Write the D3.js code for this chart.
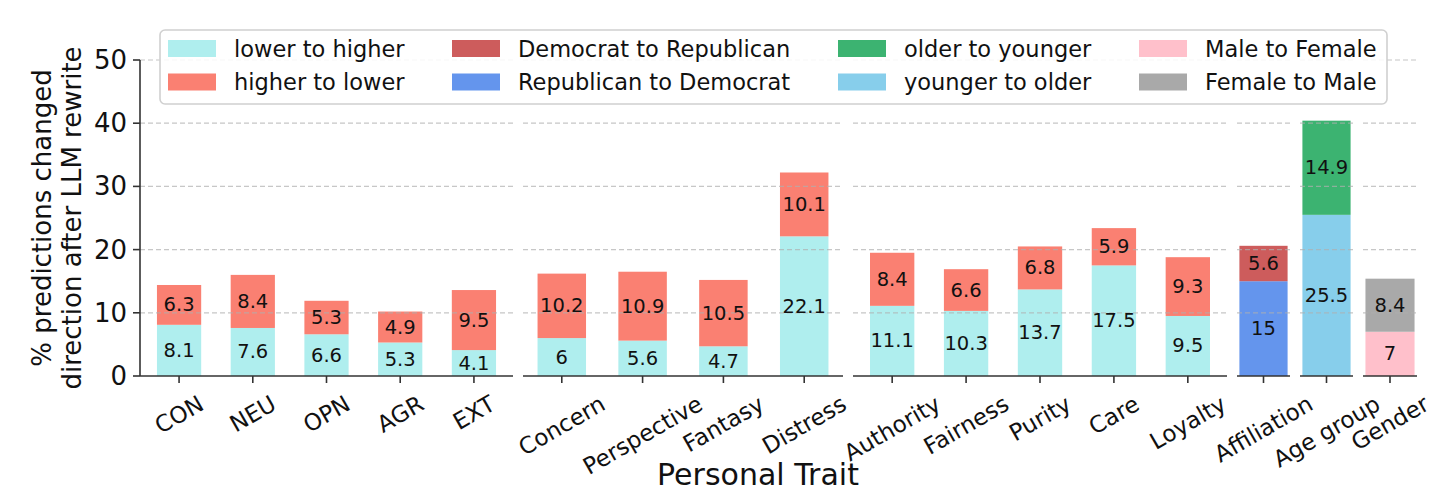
<!DOCTYPE html>
<html>
<head>
<meta charset="utf-8">
<script src="https://cdn.jsdelivr.net/npm/d3@7"></script>
<style>
  body { margin: 0; background: #fff; }
  svg { font-family: "DejaVu Sans", sans-serif; }
</style>
</head>
<body>
<svg id="chart" width="1440" height="500"></svg>
<script>
// Big five
var traits1 = ["CON", "NEU", "OPN", "AGR", "EXT"];
var lowToHigh1 = [8.1, 7.6, 6.6, 5.3, 4.1];
var highToLow1 = [6.3, 8.4, 5.3, 4.9, 9.5];

// empathy
var traits2 = ["Concern", "Perspective", "Fantasy", "Distress"];
var lowToHigh2 = [6, 5.6, 4.7, 22.1];
var highToLow2 = [10.2, 10.9, 10.5, 10.1];

// moral foundations
var traits3 = ["Authority", "Fairness", "Purity", "Care", "Loyalty"];
var lowToHigh3 = [11.1, 10.3, 13.7, 17.5, 9.5];
var highToLow3 = [8.4, 6.6, 6.8, 5.9, 9.3];

// demographics
var repToDem = [15];
var demToRep = [5.6];
var youngToOld = [25.5];
var oldToYoung = [14.9];
var maleToFemale = [7];
var femaleToMale = [8.4];

var yTicks = [0, 10, 20, 30, 40, 50];

var legendItems = [
    ["lower to higher", "higher to lower"],
    ["Democrat to Republican", "Republican to Democrat"],
    ["older to younger", "younger to older"],
    ["Male to Female", "Female to Male"]
];

var colors = {
    "lower to higher": "#afeeee",
    "higher to lower": "#fa8072",
    "Democrat to Republican": "#cd5c5c",
    "Republican to Democrat": "#6495ed",
    "older to younger": "#3cb371",
    "younger to older": "#87ceeb",
    "Male to Female": "#ffc0cb",
    "Female to Male": "#a9a9a9"
};

// each panel: categories + stacked series (bottom first)
var panels = [
    { cats: traits1, series: [["lower to higher", lowToHigh1], ["higher to lower", highToLow1]], w: 373 },
    { cats: traits2, series: [["lower to higher", lowToHigh2], ["higher to lower", highToLow2]], w: 320 },
    { cats: traits3, series: [["lower to higher", lowToHigh3], ["higher to lower", highToLow3]], w: 374 },
    { cats: ["Affiliation"], series: [["Republican to Democrat", repToDem], ["Democrat to Republican", demToRep]], w: 53 },
    { cats: ["Age group"], series: [["younger to older", youngToOld], ["older to younger", oldToYoung]], w: 53 },
    { cats: ["Gender"], series: [["Male to Female", maleToFemale], ["Female to Male", femaleToMale]], w: 54 }
];

var left = 140, gap = 10, barW = 0.6;
var y = d3.scaleLinear().domain([0, 50]).range([376, 60]);
var ink = "#111";

var svg = d3.select("#chart");
var gBars = svg.append("g");
var gGrid = svg.append("g");
var gText = svg.append("g");

var x0 = left;
panels.forEach(function (p) {
    var n = p.cats.length;
    // like matplotlib: 5% padding around the bar extent
    var margin = barW / 2 + 0.05 * (n - 1 + barW);
    var x = d3.scaleLinear().domain([-margin, n - 1 + margin]).range([x0, x0 + p.w]);
    var bw = x(barW) - x(0);

    var rows = p.cats.map(function (c, i) {
        var o = { cat: c };
        p.series.forEach(function (s) { o[s[0]] = s[1][i]; });
        return o;
    });
    var stack = d3.stack().keys(p.series.map(function (s) { return s[0]; }))(rows);

    stack.forEach(function (layer) {
        layer.forEach(function (d, i) {
            gBars.append("rect")
                .attr("x", x(i) - bw / 2)
                .attr("y", y(d[1]))
                .attr("width", bw)
                .attr("height", y(d[0]) - y(d[1]))
                .attr("fill", colors[layer.key]);
            gText.append("text")
                .attr("x", x(i))
                .attr("y", y((d[0] + d[1]) / 2))
                .attr("text-anchor", "middle")
                .attr("dominant-baseline", "central")
                .attr("font-size", 19.5)
                .attr("fill", ink)
                .text(String(d.data[layer.key]));
        });
    });

    // grid
    yTicks.slice(1).forEach(function (t) {
        gGrid.append("line")
            .attr("x1", x0).attr("x2", x0 + p.w)
            .attr("y1", y(t)).attr("y2", y(t))
            .attr("stroke", "#b0b0b0")
            .attr("stroke-width", 1.2)
            .attr("stroke-dasharray", "5,3")
            .attr("opacity", 0.7);
    });

    // bottom axis
    var ax = svg.append("g").attr("transform", "translate(0," + y(0) + ")");
    ax.append("line")
        .attr("x1", x0).attr("x2", x0 + p.w)
        .attr("stroke", "#333").attr("stroke-width", 1.6);
    p.cats.forEach(function (c, i) {
        ax.append("line")
            .attr("x1", x(i)).attr("x2", x(i))
            .attr("y1", 0).attr("y2", 7)
            .attr("stroke", "#333").attr("stroke-width", 1.6);
        var t = ax.append("text")
            .attr("text-anchor", "middle")
            .attr("dominant-baseline", "central")
            .attr("font-size", 23)
            .attr("fill", ink)
            .text(c);
        var L = t.node().getComputedTextLength();
        var h = 23 * 1.17;
        var H = L * 0.5 + h * 0.866;
        t.attr("transform", "translate(" + x(i) + "," + (14 + H / 2) + ") rotate(-30)");
    });

    x0 += p.w + gap;
});

// y axis
var yAxis = svg.append("g").attr("transform", "translate(" + left + ",0)");
yAxis.append("line")
    .attr("y1", y(0)).attr("y2", y(50))
    .attr("stroke", "#333").attr("stroke-width", 1.6);
yTicks.forEach(function (t) {
    yAxis.append("line")
        .attr("x1", -7).attr("x2", 0)
        .attr("y1", y(t)).attr("y2", y(t))
        .attr("stroke", "#333").attr("stroke-width", 1.6);
    yAxis.append("text")
        .attr("x", -13).attr("y", y(t))
        .attr("text-anchor", "end")
        .attr("dominant-baseline", "central")
        .attr("font-size", 26)
        .attr("fill", ink)
        .text(t);
});

// axis labels
var yMid = (y(0) + y(50)) / 2;
svg.append("text")
    .attr("transform", "translate(42," + yMid + ") rotate(-90)")
    .attr("text-anchor", "middle").attr("dominant-baseline", "central")
    .attr("font-size", 26).attr("fill", ink)
    .text("% predictions changed");
svg.append("text")
    .attr("transform", "translate(72," + yMid + ") rotate(-90)")
    .attr("text-anchor", "middle").attr("dominant-baseline", "central")
    .attr("font-size", 26).attr("fill", ink)
    .text("direction after LLM rewrite");
svg.append("text")
    .attr("x", 758).attr("y", 474)
    .attr("text-anchor", "middle").attr("dominant-baseline", "central")
    .attr("font-size", 30).attr("fill", ink)
    .text("Personal Trait");

// legend
var lg = svg.append("g");
lg.append("rect")
    .attr("x", 160).attr("y", 30)
    .attr("width", 1227).attr("height", 74)
    .attr("rx", 5)
    .attr("fill", "#fff").attr("fill-opacity", 0.85)
    .attr("stroke", "#d0d0d0").attr("stroke-width", 1.6);
var colX = [168, 452, 838, 1139];
legendItems.forEach(function (col, ci) {
    col.forEach(function (name, ri) {
        var cy = 48.5 + ri * 33.5;
        lg.append("rect")
            .attr("x", colX[ci]).attr("y", cy - 8.5)
            .attr("width", 48).attr("height", 17)
            .attr("fill", colors[name]);
        lg.append("text")
            .attr("x", colX[ci] + 66).attr("y", cy)
            .attr("dominant-baseline", "central")
            .attr("font-size", 22.5).attr("fill", ink)
            .text(name);
    });
});
</script>
</body>
</html>
